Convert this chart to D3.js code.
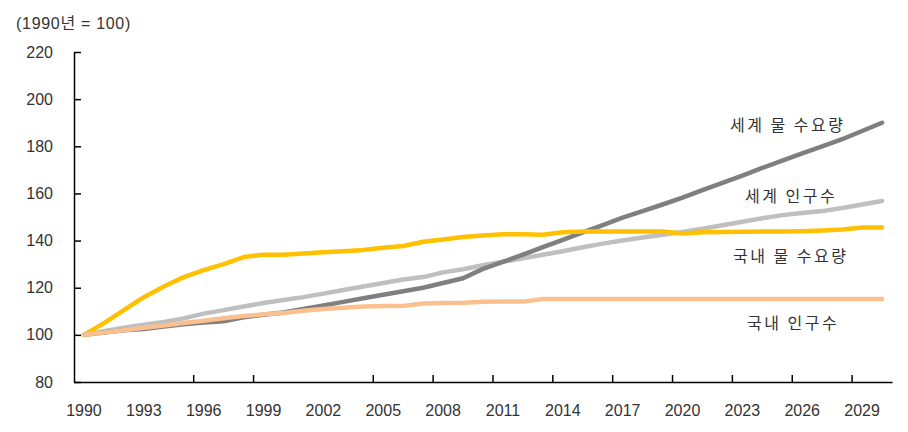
<!DOCTYPE html>
<html>
<head>
<meta charset="utf-8">
<script src="https://cdn.jsdelivr.net/npm/d3@7"></script>
<style>
  html, body { margin: 0; padding: 0; background: #fff; }
  svg { display: block; }
</style>
</head>
<body>
<svg id="chart" width="908" height="432"></svg>
<script>
// ---- data ----
const years = d3.range(1990, 2031);
const worldWater = [100,101,102,102.5,103.5,104.5,105.2,105.8,107.5,108.5,109.5,111,112.5,114,115.5,117,118.5,120,122,124,128,131,134,137.2,140.3,143.5,146.6,149.7,152.5,155.3,158.2,161.4,164.5,167.6,170.8,173.9,177,180,183,186.5,190];
const worldPop = [100,101.5,103,104.3,105.5,107,109,110.5,112,113.5,114.8,116,117.5,119,120.5,122,123.5,124.5,126.5,127.8,129.5,131,132.5,134,135.5,137.2,138.7,140,141.3,142.5,143.6,145,146.5,148,149.5,150.8,151.7,152.5,153.8,155.3,156.8];
const domWater = [100,105,110.5,116,120.5,124.5,127.5,130,133,134,134,134.5,135,135.5,136,137,137.7,139.5,140.5,141.5,142.2,142.7,142.7,142.5,143.5,143.8,143.8,143.8,143.8,143.8,143,143.5,143.6,143.7,143.8,143.8,144,144.3,144.7,145.5,145.5];
const domPop = [100,101,102,103,104,105,106,107,108,108.7,109.3,110.2,111,111.5,112,112.2,112.2,113.3,113.5,113.6,114,114.1,114.1,115.2,115.2,115.2,115.2,115.2,115.2,115.2,115.2,115.2,115.2,115.2,115.2,115.2,115.2,115.2,115.2,115.2,115.2];
const seriesNames = ["세계 인구수", "세계 물 수요량", "국내 물 수요량", "국내 인구수"];
const yTicks = [80, 100, 120, 140, 160, 180, 200, 220];
const xLabelYears = [1990,1993,1996,1999,2002,2005,2008,2011,2014,2017,2020,2023,2026,2029];
const xTickYears = [1996,1999,2005,2008,2011,2014,2017,2020,2023,2026,2029];
const titleText = "(1990년 = 100)";

// ---- chart ----
const svg = d3.select("#chart");
const x = d3.scaleBand().domain(years).range([74, 892]).padding(0);
const y = d3.scaleLinear().domain([80, 220]).range([382, 52]);
const cx = yr => x(yr) + x.bandwidth() / 2;

const series = [
  { name: seriesNames[0], values: worldPop, color: "#bfbfbf", label: [745, 202] },
  { name: seriesNames[1], values: worldWater, color: "#7f7f7f", label: [730, 131] },
  { name: seriesNames[2], values: domWater, color: "#ffc000", label: [733, 262] },
  { name: seriesNames[3], values: domPop, color: "#fac090", label: [747, 329] }
];

const line = d3.line()
  .x((d, i) => cx(years[i]))
  .y(d => y(d));

svg.append("g").selectAll("path")
  .data(series)
  .join("path")
  .attr("d", s => line(s.values))
  .attr("fill", "none")
  .attr("stroke", s => s.color)
  .attr("stroke-width", 4.5)
  .attr("stroke-linejoin", "round")
  .attr("stroke-linecap", "round");

// y axis
const yAxis = d3.axisLeft(y).tickValues(yTicks).tickSizeInner(-7).tickSizeOuter(0).tickPadding(21);
const gy = svg.append("g").attr("transform", "translate(74,0)").call(yAxis);
gy.selectAll("path, line").attr("stroke", "#000").attr("stroke-width", 1.5);
gy.selectAll("text").attr("font-family", "'Liberation Sans', Arial, sans-serif").attr("font-size", 16).attr("fill", "#333");

// x axis (labels centered on categories)
const xAxis = d3.axisBottom(x).tickValues(xLabelYears).tickSizeInner(0).tickSizeOuter(0).tickPadding(22.6);
const gx = svg.append("g").attr("transform", "translate(0,382)").call(xAxis);
gx.select("path.domain").attr("stroke", "#000").attr("stroke-width", 1.5);
gx.selectAll("text").attr("font-family", "'Liberation Sans', Arial, sans-serif").attr("font-size", 16).attr("fill", "#333");

// x tick marks at category boundaries
svg.append("g").selectAll("line")
  .data(xTickYears)
  .join("line")
  .attr("x1", d => x(d)).attr("x2", d => x(d))
  .attr("y1", 382).attr("y2", 375)
  .attr("stroke", "#000").attr("stroke-width", 1.5);

// title
svg.append("text")
  .attr("x", 16).attr("y", 29)
  .attr("font-family", "'Liberation Sans', 'Noto Sans CJK KR', sans-serif")
  .attr("font-size", 16)
  .attr("letter-spacing", 0.7)
  .attr("fill", "#333")
  .text(titleText);

// series labels
svg.append("g").selectAll("text")
  .data(series)
  .join("text")
  .attr("x", s => s.label[0]).attr("y", s => s.label[1])
  .attr("font-family", "'Noto Sans CJK KR', sans-serif")
  .attr("font-size", 16)
  .attr("letter-spacing", 2.5)
  .attr("fill", "#333")
  .text(s => s.name);
</script>
</body>
</html>
